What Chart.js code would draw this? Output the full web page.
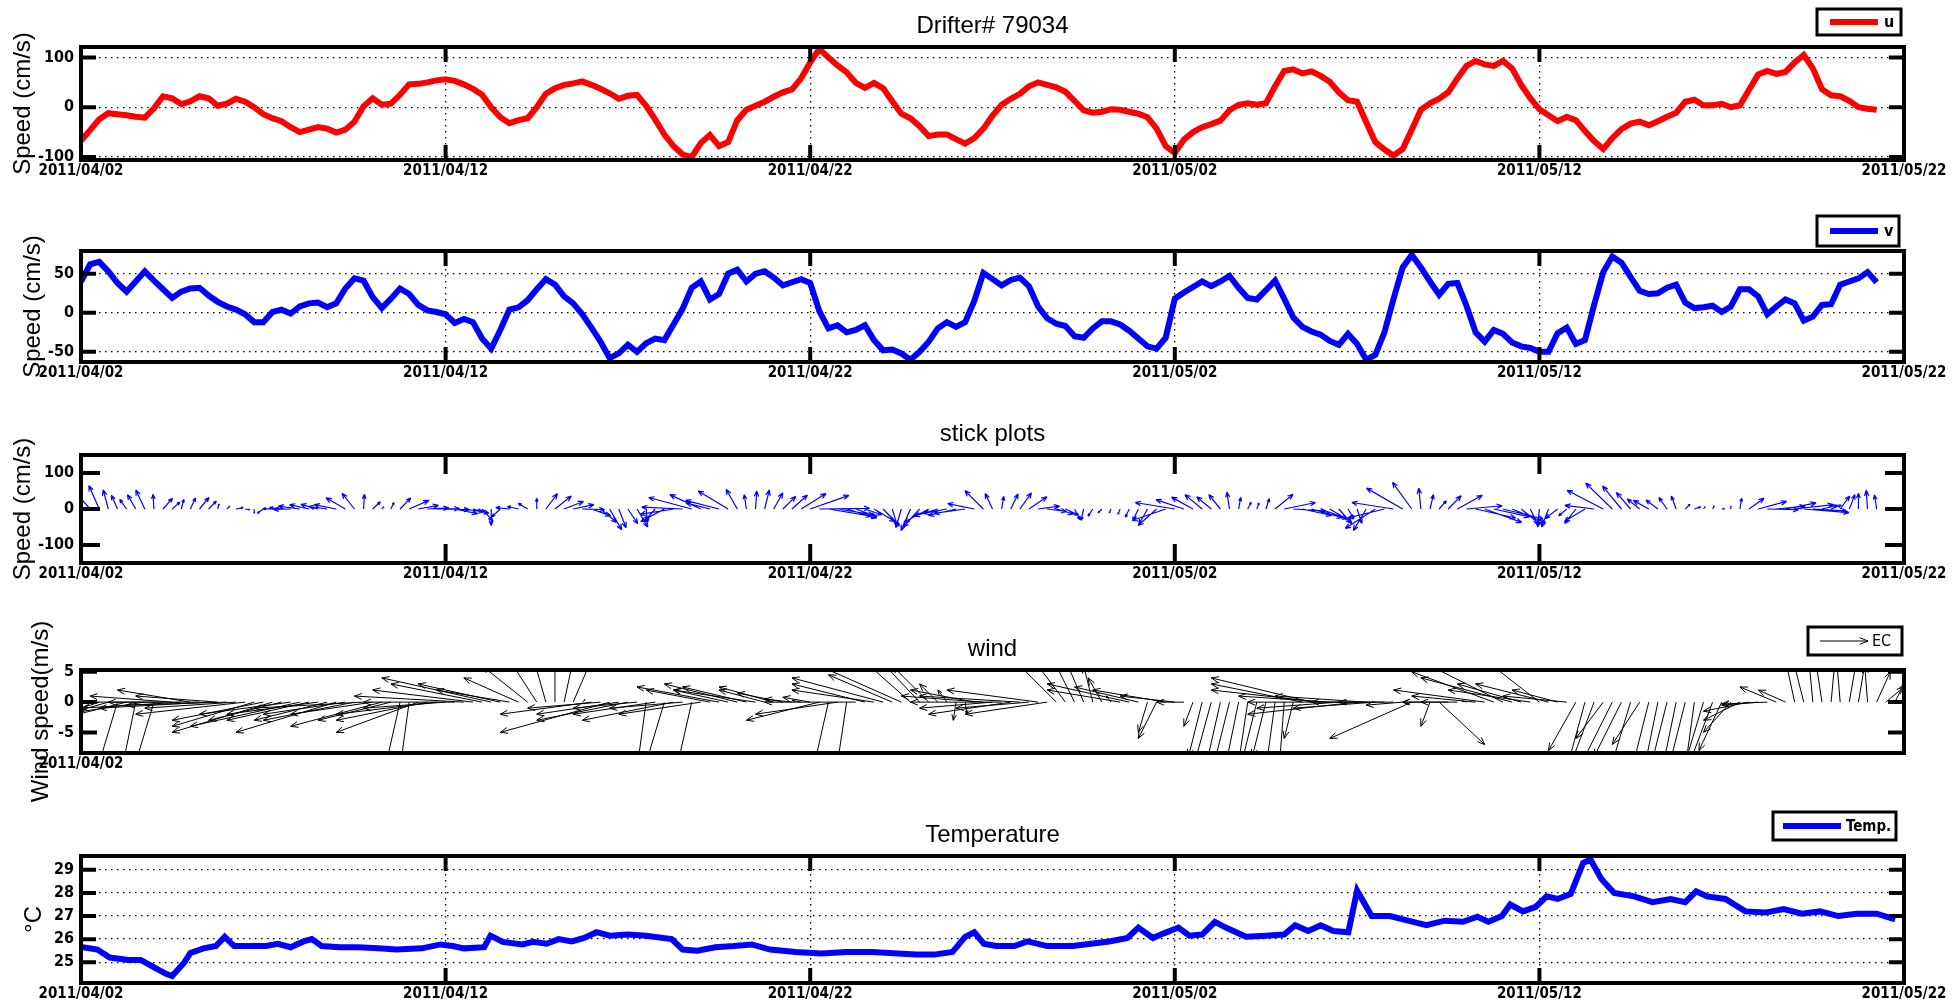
<!DOCTYPE html>
<html>
<head>
<meta charset="utf-8">
<script src="https://cdn.jsdelivr.net/npm/chart.js@4.4.1/dist/chart.umd.min.js"></script>
<style>
html, body { margin: 0; padding: 0; background: #fff; }
#wrap { position: relative; width: 1957px; height: 1000px; overflow: hidden; }
#wrap canvas { position: absolute; left: 0; top: 0; }
</style>
</head>
<body>
<div id="wrap">
  <canvas id="pU" width="1957" height="1000"></canvas>
  <canvas id="pV" width="1957" height="1000"></canvas>
  <canvas id="pStick" width="1957" height="1000"></canvas>
  <canvas id="pWind" width="1957" height="1000"></canvas>
  <canvas id="pTemp" width="1957" height="1000"></canvas>
</div>
<script>
// x axis = days since 2011/04/02
const dateTicks = [0, 10, 20, 30, 40, 50];
const dateLabels = ['2011/04/02', '2011/04/12', '2011/04/22', '2011/05/02', '2011/05/12', '2011/05/22'];

// drifter velocity, one sample every 6 h (cm/s)
const drifterStep = 0.25;
const uSpeed = [
  -67, -46, -24, -12, -14, -16, -19, -21,
  -2, 22, 18, 6, 12, 22, 18, 3,
  7, 17, 11, 0, -14, -22, -28, -40,
  -50, -45, -40, -43, -51, -45, -29, 2,
  18, 5, 7, 25, 46, 47, 50, 54,
  56, 53, 46, 37, 25, 0, -20, -32,
  -26, -22, 0, 27, 38, 45, 48, 52,
  45, 37, 28, 17, 23, 25, 3, -25,
  -55, -78, -95, -100, -72, -56, -78, -70,
  -26, -5, 3, 11, 21, 30, 36, 58,
  90, 117, 100, 84, 70, 49, 39, 49,
  38, 12, -13, -22, -38, -58, -55, -55,
  -64, -73, -62, -43, -17, 5, 17, 27,
  42, 50, 45, 40, 31, 13, -6, -11,
  -9, -4, -5, -9, -13, -20, -43, -78,
  -92, -65, -50, -40, -34, -27, -6, 5,
  8, 5, 8, 42, 73, 76, 68, 72,
  63, 51, 30, 14, 11, -30, -70, -85,
  -97, -84, -45, -5, 8, 17, 30, 58,
  83, 93, 86, 83, 93, 78, 45, 18,
  -4, -16, -28, -19, -26, -48, -68, -84,
  -62, -44, -33, -29, -36, -28, -19, -11,
  11, 15, 4, 4, 7, 0, 4, 35,
  66, 73, 67, 71, 90, 105, 78, 36,
  24, 22, 13, 0, -3, -5
];
const vSpeed = [
  40, 62, 65, 53, 38, 27, 40, 53,
  41, 30, 19, 27, 31, 32, 22, 14,
  8, 4, -2, -12, -12, 1, 4, -1,
  8, 12, 13, 7, 12, 31, 44, 41,
  20, 6, 18, 31, 24, 10, 3, 1,
  -2, -13, -8, -12, -33, -46, -22, 4,
  7, 16, 30, 43, 36, 21, 12, -2,
  -19, -37, -58, -52, -41, -50, -39, -33,
  -35, -15, 5, 32, 40, 17, 24, 50,
  55, 40, 50, 53, 45, 35, 39, 43,
  38, 2, -20, -16, -25, -22, -16, -35,
  -48, -47, -52, -60, -50, -37, -20, -12,
  -18, -12, 15, 51, 43, 35, 42, 45,
  34, 8, -7, -14, -17, -30, -32, -20,
  -11, -11, -15, -23, -33, -43, -46, -32,
  18, 26, 33, 40, 34, 40, 47, 32,
  19, 17, 29, 41, 18, -6, -18, -24,
  -28, -36, -41, -27, -40, -60, -54, -25,
  18, 58, 74, 58, 40, 23, 37, 38,
  9, -25, -37, -22, -27, -38, -43, -45,
  -50, -50, -26, -19, -40, -35, 10, 52,
  72, 64, 46, 28, 24, 25, 32, 36,
  13, 6, 7, 9, 1, 8, 30, 30,
  21, -2, 8, 17, 12, -10, -5, 10,
  11, 36, 40, 44, 52, 39
];

// wind components, one sample every 6 h (m/s)
const windStep = 0.25;
const windU = [
  -1, -2, -6, -7, -2, -8, -1.5, -9,
  -2, -10, -9, -11, -8, -10, -12, -9,
  -11, -10, -12, -9, -10, -11, -8, -10,
  -12, -9, -10, -8, -11, -9, -10, -12,
  -9, -10, -8, -1.5, -1, -9, -10, -11,
  -9, -10, -12, -11, -10, -12, -9, -8,
  -6, -5, -3, -1.5, 0, 1, 2, 0.3,
  -10, -8, -12, -9, -10, -7, -1, -9,
  -2, -10, -8, -1.5, -9, -7, -9, -6,
  -8, -7, -9, -5, -6, -5, -3, -1,
  -3, -8, -1.5, -9, -1, -10, -8, -9,
  -10, -7, -9, -6, -5, -4, -2, -1,
  -0.3, 0.2, -7, -9, -8, -10, -9, -11,
  -8, -10, -9, -6, -5, -3, -2, -1,
  -1.5, -0.5, -8, -9, -7, -1, -2, -8,
  -6, -3, -1, -1.5, -2, -1.5, -2, -1.5,
  -1, -2, -1.5, -1, -0.5, -1, -10, -11,
  -12, -10, -9, -11, -12, -10, -9, -8,
  -6, -4, -9, -2, -1, 5, -3, -6,
  -0.5, -7, -10, -9, -8, -10, -7, -9,
  -6, -8, -5, -7, -3, -2, -2.5, -3,
  -4, -3, -2, -3, -2, -1.5, -2, -1.5,
  -2, -1, -2, -3, -2.5, -3, -4, -5,
  -4, -5, -4, -3, -1, -1.5, -0.5, -1,
  0.5, -0.5, 0.8, 1, -0.3, 1.5, 2, 1
];
const windV = [
  -4, -4, -3, -3, -10, -3, -11, -2,
  -10, 0, 1, -1, 2, 0, -1, 1,
  -0.5, -1, -2, -4, -3, -5, -3, -2,
  -4, -3, -2, -3, -5, -2, -3, -1,
  -2, -4, -3, -10, -11, -5, -3, -2,
  -1, 0, 1, 2, 3, 4, 3, 2,
  4, 6, 7, 8, 8, 7, 7, 0.4,
  -2, -1, -5, -2, -3, -1, -11, -2,
  -10, -3, -1, -10, -2, 2, 2.5, 2,
  3, 2.5, 2, 2, 2.5, 1.5, 0.5, 0.3,
  0.8, -3, -10, -2, -10, 0, 3, 2,
  4, 4.5, 6, 8, 8, 6, 3, 2,
  -3, -2, 2, 1, -1, 0, -2, 1,
  -1, 2, -2, 9, 10, 9, 7, 6,
  4, 1, 2, 3, 2.5, -5, -6, 2,
  1, 0, -4, -9, -11, -10, -12, -11,
  -10, -12, -9, -11, -10, -6, 3, 4,
  2, 1, -1, 0, -2, 1, -1, 0,
  0, -0.5, -6, 0, -4, -7, 0, 0,
  0.2, 1, 2, 5, 6, 4, 3, 2,
  7, 3, 2, 1, -8, -11, -10, -6,
  -12, -9, -10, -7, -12, -11, -12, -11,
  -12, -11, -10, -12, -8, -5, -3, -1.5,
  -0.5, -0.3, 2.5, 2, 7, 9, 8, 10,
  8, 9, 7, 9, 6, 5, 2.5, 3
];

// temperature (deg C) at irregular days
const tempDay = [
  0, 0.45, 0.79, 1.3, 1.64, 1.98, 2.33, 2.5, 2.84, 3.0,
  3.36, 3.7, 3.94, 4.2, 4.7, 5.07, 5.4, 5.75, 6.1, 6.33,
  6.6, 7.1, 7.6, 8.15, 8.66, 9.35, 9.86, 10.2, 10.5, 11.06,
  11.23, 11.57, 12.1, 12.4, 12.77, 13.1, 13.46, 13.8, 14.14, 14.5,
  15.0, 15.5, 16.2, 16.5, 16.9, 17.4, 17.9, 18.4, 18.9, 19.6,
  20.3, 21.0, 21.7, 22.4, 22.9, 23.4, 23.9, 24.25, 24.5, 24.76,
  25.1, 25.6, 25.96, 26.5, 27.2, 27.7, 28.2, 28.7, 29.0, 29.4,
  29.7, 30.1, 30.4, 30.75, 31.1, 31.4, 31.95, 32.5, 33.0, 33.3,
  33.66, 34.0, 34.35, 34.76, 35.0, 35.4, 35.9, 36.4, 36.9, 37.4,
  37.9, 38.3, 38.6, 38.97, 39.2, 39.55, 39.9, 40.2, 40.5, 40.86,
  41.2, 41.4, 41.7, 42.05, 42.6, 43.1, 43.6, 44.0, 44.3, 44.6,
  45.1, 45.65, 46.2, 46.7, 47.2, 47.7, 48.2, 48.7, 49.25, 49.76
];
const tempVal = [
  25.66, 25.55, 25.2, 25.1, 25.1, 24.8, 24.5, 24.4, 25.0, 25.4,
  25.6, 25.7, 26.1, 25.7, 25.7, 25.7, 25.8, 25.65, 25.9, 26.0,
  25.7, 25.65, 25.65, 25.6, 25.55, 25.6, 25.77, 25.7, 25.6, 25.65,
  26.15, 25.88, 25.77, 25.88, 25.8, 26.0, 25.9, 26.05, 26.3, 26.15,
  26.2, 26.15, 26.0, 25.55, 25.5, 25.65, 25.7, 25.77, 25.55, 25.44,
  25.38, 25.44, 25.44, 25.38, 25.33, 25.33, 25.44, 26.1, 26.3, 25.8,
  25.7, 25.7, 25.9, 25.7, 25.7, 25.8, 25.9, 26.05, 26.5, 26.05,
  26.25, 26.5, 26.15, 26.2, 26.75, 26.5, 26.1, 26.15, 26.2, 26.6,
  26.35, 26.6, 26.35, 26.3, 28.1, 27.0, 27.0, 26.8, 26.6, 26.8,
  26.75, 26.97, 26.75, 27.0, 27.5, 27.2, 27.4, 27.85, 27.74, 27.96,
  29.3, 29.45, 28.6, 28.0, 27.85, 27.6, 27.74, 27.6, 28.07, 27.85,
  27.74, 27.2, 27.15, 27.3, 27.1, 27.2, 27.0, 27.1, 27.1, 26.86
];

const uTicks = [-100, 0, 100];
const vTicks = [-50, 0, 50];
const stickTicks = [-100, 0, 100];
const windTicks = [-5, 0, 5];
const tempTicks = [25, 26, 27, 28, 29];

const NARROW = "'Liberation Sans Narrow', 'DejaVu Sans Condensed', 'Arial Narrow', sans-serif";
const SANS = "'Liberation Sans', Arial, sans-serif";
Chart.defaults.color = '#000';

function arrow(ctx, x0, y0, x1, y1, head) {
  ctx.moveTo(x0, y0);
  ctx.lineTo(x1, y1);
  const len = Math.hypot(x1 - x0, y1 - y0);
  if (len < 1) return;
  const h = Math.min(head, len * 0.33);
  const a = Math.atan2(y1 - y0, x1 - x0);
  ctx.moveTo(x1, y1);
  ctx.lineTo(x1 - h * Math.cos(a - 0.38), y1 - h * Math.sin(a - 0.38));
  ctx.moveTo(x1, y1);
  ctx.lineTo(x1 - h * Math.cos(a + 0.38), y1 - h * Math.sin(a + 0.38));
}

// matlab-like decorations: quiver, box with inner ticks, title, legend
const matlab = {
  id: 'matlab',
  afterDatasetsDraw(chart, args, o) {
    const { ctx, chartArea: a } = chart;
    const xs = chart.scales.x, ys = chart.scales.y;

    if (o.quiver) {
      const q = o.quiver;
      ctx.save();
      ctx.beginPath();
      ctx.rect(a.left, a.top, a.right - a.left, a.bottom - a.top);
      ctx.clip();
      ctx.strokeStyle = q.color;
      ctx.lineWidth = q.width;
      ctx.beginPath();
      const y0 = ys.getPixelForValue(0);
      q.u.forEach((u, i) => {
        const t = i * q.step;
        arrow(ctx, xs.getPixelForValue(t), y0,
          xs.getPixelForValue(t + u * q.dx), ys.getPixelForValue(q.v[i]), q.head);
      });
      ctx.stroke();
      ctx.restore();
    }

    ctx.save();
    ctx.strokeStyle = '#000';
    ctx.lineWidth = 4;
    ctx.strokeRect(a.left, a.top, a.right - a.left, a.bottom - a.top);
    ctx.beginPath();
    if (o.xTick) {
      xs.ticks.forEach(t => {
        const px = xs.getPixelForValue(t.value);
        if (px < a.left + 3 || px > a.right - 3) return;
        ctx.moveTo(px, a.top); ctx.lineTo(px, a.top + o.xTick);
        ctx.moveTo(px, a.bottom); ctx.lineTo(px, a.bottom - o.xTick);
      });
    }
    if (o.yTick) {
      ys.ticks.forEach(t => {
        const py = ys.getPixelForValue(t.value);
        ctx.moveTo(a.left, py); ctx.lineTo(a.left + o.yTick, py);
        ctx.moveTo(a.right, py); ctx.lineTo(a.right - o.yTick, py);
      });
    }
    ctx.stroke();

    if (o.title) {
      ctx.fillStyle = '#000';
      ctx.font = '24px ' + SANS;
      ctx.textAlign = 'center';
      ctx.textBaseline = 'middle';
      ctx.fillText(o.title, (a.left + a.right) / 2, a.top - 21);
    }

    if (o.legend) {
      const L = o.legend;
      ctx.fillStyle = '#fff';
      ctx.fillRect(L.x, L.y, L.w, L.h);
      ctx.lineWidth = 3;
      ctx.strokeStyle = '#000';
      ctx.strokeRect(L.x, L.y, L.w, L.h);
      const my = L.y + L.h / 2;
      ctx.beginPath();
      if (L.arrow) {
        ctx.lineWidth = 1;
        arrow(ctx, L.x + L.x0, my, L.x + L.x1, my, 9);
      } else {
        ctx.strokeStyle = L.color;
        ctx.lineWidth = 6;
        ctx.moveTo(L.x + L.x0, my);
        ctx.lineTo(L.x + L.x1, my);
      }
      ctx.stroke();
      ctx.fillStyle = '#000';
      ctx.font = L.font;
      ctx.textAlign = 'left';
      ctx.textBaseline = 'middle';
      ctx.fillText(L.label, L.x + L.tx, my + 1);
    }
    ctx.restore();
  }
};

function panel(id, p) {
  return new Chart(document.getElementById(id), {
    type: 'line',
    data: { datasets: p.datasets || [] },
    options: {
      responsive: false,
      animation: false,
      events: [],
      layout: { padding: { left: 0, right: 1957 - 1904, top: p.top, bottom: 1000 - p.bottom - 30 } },
      plugins: { legend: { display: false }, tooltip: { enabled: false }, matlab: p.deco },
      scales: {
        x: {
          type: 'linear', min: 0, max: 50,
          afterFit: s => { s.height = 30; },
          afterBuildTicks: s => { s.ticks = dateTicks.map(v => ({ value: v })); },
          ticks: {
            autoSkip: false, maxRotation: 0, minRotation: 0, padding: 2, color: '#000',
            font: { family: NARROW, size: 15, weight: 'bold' },
            callback: v => {
              const k = dateTicks.indexOf(v);
              return k >= 0 && (p.allDates || k === 0) ? dateLabels[k] : '';
            }
          },
          grid: { display: !!p.grid, color: '#000', lineWidth: 1.3, drawTicks: false },
          border: { display: false, dash: [1.5, 4.5] }
        },
        y: {
          type: 'linear', min: p.ymin, max: p.ymax,
          afterFit: s => { s.width = 81; },
          afterBuildTicks: s => { s.ticks = p.yTicks.map(v => ({ value: v })); },
          ticks: { padding: 7, color: '#000', font: { family: NARROW, size: 16, weight: 'bold' } },
          grid: { display: !!p.grid, color: '#000', lineWidth: 1.3, drawTicks: false },
          border: { display: false, dash: [1.5, 4.5] },
          title: {
            display: true, text: p.ylabel, color: '#000',
            font: { family: SANS, size: 24 },
            padding: { top: p.ylabelPad, bottom: 0 }
          }
        }
      }
    },
    plugins: [matlab]
  });
}

const drifterPts = arr => arr.map((y, i) => ({ x: i * drifterStep, y }));
const lineStyle = c => ({ borderColor: c, borderWidth: 6, pointRadius: 0, tension: 0, fill: false });

panel('pU', {
  top: 47, bottom: 160, ymin: -106, ymax: 121, yTicks: uTicks,
  ylabel: 'Speed (cm/s)', ylabelPad: 9, grid: true, allDates: true,
  datasets: [{ label: 'u', data: drifterPts(uSpeed), ...lineStyle('#ff0000') }],
  deco: {
    title: 'Drifter# 79034', xTick: 15, yTick: 15,
    legend: { x: 1817, y: 9, w: 84, h: 26, x0: 13, x1: 61, tx: 67, label: 'u', color: '#ff0000', font: 'bold 16px ' + NARROW }
  }
});

panel('pV', {
  top: 251, bottom: 362, ymin: -63, ymax: 79, yTicks: vTicks,
  ylabel: 'Speed (cm/s)', ylabelPad: 19, grid: true, allDates: true,
  datasets: [{ label: 'v', data: drifterPts(vSpeed), ...lineStyle('#0000ff') }],
  deco: {
    xTick: 15, yTick: 15,
    legend: { x: 1817, y: 216, w: 82, h: 30, x0: 13, x1: 61, tx: 67, label: 'v', color: '#0000ff', font: 'bold 16px ' + NARROW }
  }
});

panel('pStick', {
  top: 455, bottom: 563, ymin: -150, ymax: 150, yTicks: stickTicks,
  ylabel: 'Speed (cm/s)', ylabelPad: 9, grid: false, allDates: true,
  deco: {
    title: 'stick plots', xTick: 19, yTick: 19,
    quiver: { u: uSpeed, v: vSpeed, step: drifterStep, dx: 0.0118, color: '#0000ff', width: 1.2, head: 6 }
  }
});

panel('pWind', {
  top: 670, bottom: 753, ymin: -8.4, ymax: 5.3, yTicks: windTicks,
  ylabel: 'Wind speed(m/s)', ylabelPad: 27, grid: false, allDates: false,
  deco: {
    title: 'wind', xTick: 0, yTick: 16,
    quiver: { u: windU, v: windV, step: windStep, dx: 0.25, color: '#000', width: 1, head: 8 },
    legend: { x: 1808, y: 627, w: 94, h: 28, x0: 12, x1: 60, tx: 64, label: 'EC', arrow: true, font: '16px ' + NARROW }
  }
});

panel('pTemp', {
  top: 856, bottom: 983, ymin: 24.1, ymax: 29.6, yTicks: tempTicks,
  ylabel: '°C', ylabelPad: 20, grid: true, allDates: true,
  datasets: [{ label: 'Temp.', data: tempDay.map((d, i) => ({ x: d, y: tempVal[i] })), ...lineStyle('#0000ff') }],
  deco: {
    title: 'Temperature', xTick: 15, yTick: 15,
    legend: { x: 1773, y: 812, w: 123, h: 28, x0: 10, x1: 68, tx: 73, label: 'Temp.', color: '#0000ff', font: 'bold 15px ' + NARROW }
  }
});
</script>
</body>
</html>
